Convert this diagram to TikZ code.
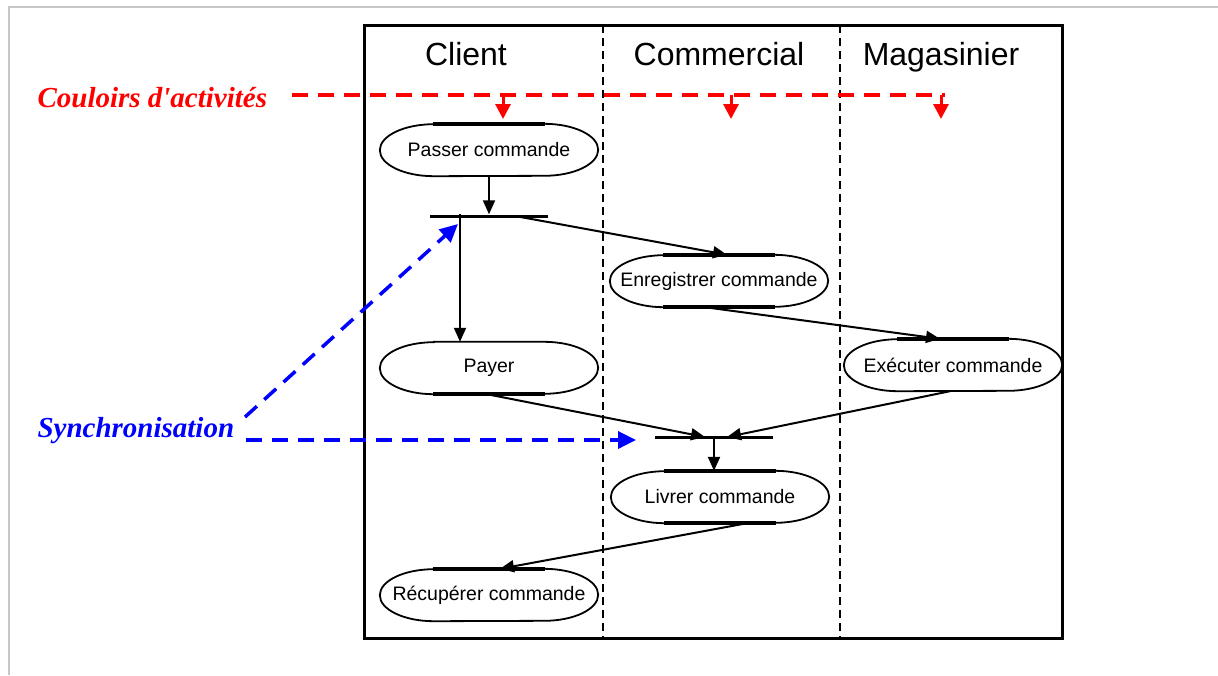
\documentclass[tikz,border=0pt]{standalone}
\usepackage{fontspec}
\setmainfont{Liberation Sans}
\newfontfamily\notefont{Liberation Serif}
\usetikzlibrary{arrows.meta}

\begin{document}
\begin{tikzpicture}[x=1pt,y=-1pt]
    \def\actw{218}
    \def\acth{52}
    \tikzstyle{activity}=[minimum width=\actw pt,minimum height=\acth pt,inner sep=0pt,font=\fontsize{19.5}{22}\selectfont]
    \tikzstyle{sync bar}=[fill=black,minimum width=118pt,minimum height=3pt,inner sep=0pt]
    \tikzstyle{lane title}=[anchor=base,font=\fontsize{32}{36}\selectfont]
    \tikzstyle{flow}=[line width=2pt,-{Triangle[length=14pt,width=12pt]}]
    \tikzstyle{note}=[anchor=base west,font=\notefont\bfseries\itshape\fontsize{29}{32}\selectfont]
    \tikzstyle{red note}=[red,line width=3.5pt,dash pattern=on 16pt off 10pt]
    \tikzstyle{blue note}=[blue,line width=3.5pt,dash pattern=on 16pt off 10pt,-{Triangle[length=18pt,width=17pt]}]

    \useasboundingbox (0,0) rectangle (1218,675);
    \draw[black!22,line width=1.5pt] (9,675) -- (9,7) -- (1218,7);

    % Draw the swimlanes
    \draw[line width=3pt] (364,25) rectangle (1062,638);
    \foreach \x in {603,840}
        \draw[line width=2.5pt,dash pattern=on 8pt off 5pt] (\x,25) -- (\x,638);
    \node[lane title] (client) at (466,65) {Client};
    \node[lane title] (commercial) at (719,65) {Commercial};
    \node[lane title] (magasinier) at (941,65) {Magasinier};

    % Draw the activities
    \node[activity] (passer) at (489,150) {Passer commande};
    \node[activity] (enreg) at (719,281) {Enregistrer commande};
    \node[activity] (payer) at (489,368) {Payer};
    \node[activity] (exec) at (953,365) {Exécuter commande};
    \node[activity] (livrer) at (720,497) {Livrer commande};
    \node[activity] (recup) at (489,595) {Récupérer commande};
    \foreach \n in {passer,enreg,payer,exec,livrer,recup}
        \draw[line width=1.8pt] ([xshift=54pt]\n.north west) -- ([xshift=-54pt]\n.north east)
            arc[start angle=90,end angle=-90,x radius=54pt,y radius=26pt]
            -- ([xshift=54pt]\n.south west)
            arc[start angle=270,end angle=90,x radius=54pt,y radius=26pt] -- cycle;
    \foreach \n/\side in {passer/north,enreg/north,enreg/south,payer/south,exec/north,livrer/north,livrer/south,recup/north}
        \draw[line width=3.5pt] ([xshift=-56pt]\n.\side) -- ([xshift=56pt]\n.\side);

    % Draw the synchronisation bars
    \node[sync bar] (sync1) at (489,216) {};
    \node[sync bar] (sync2) at (714,437) {};

    % Connect the activities
    \draw[flow] (passer.south) -- (sync1.north);
    \draw[flow] ([xshift=-29pt]sync1.north) -- ([xshift=-29pt]payer.north);
    \draw[flow] ([xshift=26pt]sync1.center) -- ([xshift=8pt]enreg.north);
    \draw[flow] ([xshift=-14pt]enreg.south) -- ([xshift=-13pt]exec.north);
    \draw[flow] ([xshift=-2pt]payer.south) -- ([xshift=-9pt]sync2.center);
    \draw[flow] ([xshift=-3pt]exec.south) -- ([xshift=13pt]sync2.center);
    \draw[flow] (sync2.south) -- ([xshift=-6pt]livrer.north);
    \draw[flow] ([xshift=27pt]livrer.south) -- ([xshift=11pt]recup.north);

    % Annotations
    \node[note,text=red] (couloirs) at (34,107) {Couloirs d'activités};
    \coordinate (redstart) at (292,95);
    \coordinate (redend) at (945,95);
    \draw[red note] (redstart) -- (redend);
    \foreach \x/\lane in {503/client,731/commercial,941/magasinier}
        \draw[red,line width=3pt,-{Triangle[length=15pt,width=15pt]}] (\x,95) -- (\x,119);

    \node[note,text=blue] (synchro) at (34,437) {Synchronisation};
    \coordinate (bluestart1) at (245,417);
    \coordinate (bluestart2) at (246,440);
    \coordinate (bluetip1) at (458,224);
    \coordinate (bluetip2) at (636,440);
    \draw[blue note] (bluestart1) -- (bluetip1);
    \draw[blue note] (bluestart2) -- (bluetip2);
\end{tikzpicture}
\end{document}
